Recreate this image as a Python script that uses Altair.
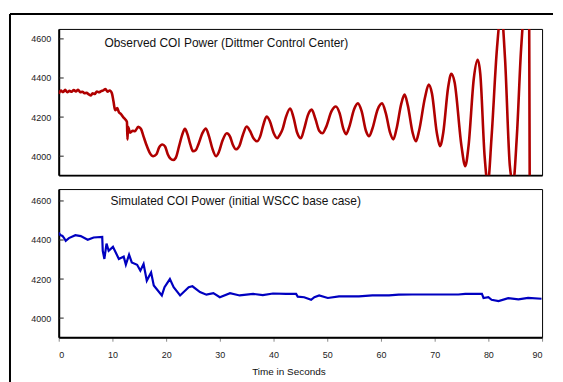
import altair as alt
import pandas as pd

# Observed COI power (red)
red_t = [0, 0.4, 0.8, 1.2, 1.6, 2.0, 2.4, 2.8, 3.2, 3.6, 4.0, 4.4, 4.8, 5.2, 5.6, 6.0, 6.3, 6.7, 7.1, 7.5, 7.9, 8.3, 8.7, 9.1, 9.5,
         9.9, 10.2, 10.5, 10.9, 11.2, 11.6, 12.0, 12.4, 12.7, 12.8, 12.9, 13.3, 13.8, 14.2, 14.8, 15.3, 15.8, 16.3, 16.9,
         17.6, 18.2, 18.7, 19.3, 19.8, 20.3, 20.8, 21.3, 21.8, 22.4, 23.0, 23.5, 24.0, 24.5, 25.0, 25.5, 26.0, 26.8,
         27.4, 28.0, 28.6, 29.3, 29.8, 30.5, 31.3, 31.9, 32.4, 33.0, 33.6, 34.3, 35.0, 35.6, 36.3, 36.9, 37.5, 38.1,
         38.7, 39.3, 40.0, 40.7, 41.2, 41.7, 42.3, 43.1, 43.7, 44.4, 45.1, 45.7, 46.4, 47.1, 47.8, 48.5, 49.1, 49.8,
         50.8, 51.6, 52.3, 53.0, 53.5, 54.1, 55.0, 55.7, 56.4, 57.2, 57.8, 58.4, 59.4, 60.2, 60.9, 61.7, 62.3, 62.9,
         63.8, 64.4, 65.0, 65.9, 66.5, 67.1, 68.2, 68.9, 69.5, 70.4, 71.0, 71.6, 72.5, 73.1, 73.7, 75.0, 75.7, 76.3,
         77.3, 78.0, 78.5, 79.3, 79.9, 80.6, 81.6, 82.4, 83.1, 84.0, 84.6, 85.3, 86.1, 86.8, 87.3, 87.6, 87.7]
red_v = [4320, 4336, 4328, 4339, 4327, 4334, 4330, 4338, 4331, 4340, 4327, 4330, 4322, 4324, 4316, 4311, 4322, 4318, 4331, 4327, 4333, 4337, 4343, 4330, 4336,
         4322, 4280, 4235, 4246, 4225, 4215, 4200, 4188, 4175, 4085, 4150, 4120, 4130, 4128, 4150, 4140, 4100, 4060, 4020,
         4000, 4010, 4045, 4060, 4050, 4010, 3987, 3980, 3992, 4050, 4110, 4140, 4110, 4060, 4025, 4030, 4060, 4120,
         4142, 4100, 4040, 4000, 4020, 4080, 4117, 4100, 4060, 4035, 4050, 4110, 4152, 4130, 4090, 4076, 4100, 4160,
         4203, 4180, 4120, 4092, 4110, 4140, 4200, 4244, 4200, 4120, 4092, 4140, 4210, 4238, 4190, 4130, 4117, 4150,
         4230, 4254, 4220, 4140, 4112, 4150, 4240, 4270, 4230, 4130, 4102, 4140, 4240, 4270, 4220, 4120, 4086, 4140,
         4270, 4315, 4260, 4120, 4076, 4130, 4300, 4366, 4320, 4120, 4051, 4120, 4350, 4422, 4380, 4050, 3949, 4050,
         4400, 4493, 4420, 4000, 3860, 4100, 4550, 4740, 4500, 3950, 3860, 4100, 4550, 4760, 4720, 4700, 3850]

# Simulated COI power (blue)
blue_t = [0, 0.3, 0.7, 1.0, 1.3, 1.9, 3.1, 4.1, 5.4, 6.5, 8.1, 8.2, 8.5, 8.9, 9.3, 10.1, 11.2, 12.1, 12.5, 13.1, 13.6,
          14.6, 15.2, 15.8, 16.4, 17.2, 17.7, 19.2, 19.7, 20.7, 21.4, 22.6, 24.2, 24.9, 26.3, 27.5, 28.8, 30.0, 31.9,
          33.7, 36.2, 38.0, 39.9, 42.3, 44.2, 44.5, 45.7, 47.0, 47.6, 48.5, 50.1, 52.2, 55.9, 58.4, 61.5, 63.3, 65.8,
          68.9, 74.4, 75.7, 78.8, 79.1, 80.0, 80.6, 81.9, 83.7, 85.6, 87.4, 89.9]
blue_v = [4438, 4425, 4421, 4410, 4396, 4410, 4425, 4420, 4401, 4413, 4416, 4345, 4303, 4382, 4345, 4365, 4303, 4315, 4274,
          4325, 4285, 4273, 4243, 4277, 4192, 4234, 4167, 4116, 4158, 4200, 4158, 4116, 4158, 4163, 4133, 4120, 4128,
          4107, 4128, 4116, 4124, 4118, 4126, 4124, 4124, 4110, 4107, 4094, 4107, 4116, 4103, 4111, 4111, 4116, 4116,
          4120, 4121, 4121, 4121, 4124, 4124, 4103, 4107, 4094, 4087, 4102, 4096, 4104, 4099]

y_ticks = [4000, 4200, 4400, 4600]
x_ticks = [0, 10, 20, 30, 40, 50, 60, 70, 80, 90]
titles = ["Observed COI Power (Dittmer Control Center)", "Simulated COI Power (initial WSCC base case)"]
x_title = "Time in Seconds"

red_df = pd.DataFrame({"t": red_t, "v": red_v})
blue_df = pd.DataFrame({"t": blue_t, "v": blue_v})
tick_df = pd.DataFrame({"v": y_ticks})

W = 486
FONT = "Liberation Sans"
PAD = {"top": 3, "left": 0, "right": 0, "bottom": 0}

xs = alt.Scale(domain=[0, 90], nice=False)
ys_top = alt.Scale(domain=[3903, 4651], nice=False)
ys_bot = alt.Scale(domain=[3902, 4661], nice=False)

y_axis = alt.Axis(values=y_ticks, format="d", ticks=False, labelPadding=8, labelFontSize=9, labelColor="#222",
                  grid=False, domainColor="#000", domainWidth=2, title=None, labelFont=FONT)

# ---------- top panel ----------
top_x_axis = alt.Axis(labels=False, ticks=False, grid=False, domainColor="#000", domainWidth=2, title=None)
top_line = alt.Chart(red_df).mark_line(color="#b00000", strokeWidth=2.6, clip=True, interpolate="monotone").encode(
    x=alt.X("t:Q", scale=xs, axis=top_x_axis),
    y=alt.Y("v:Q", scale=ys_top, axis=y_axis),
)
top_ticks = alt.Chart(tick_df).mark_rule(color="#222", strokeWidth=1).encode(
    x=alt.value(0), x2=alt.value(5), y=alt.Y("v:Q", scale=ys_top)
)
top_text = alt.Chart(pd.DataFrame({"s": [titles[0]]})).mark_text(
    align="left", baseline="middle", fontSize=12, font=FONT, color="#111"
).encode(x=alt.value(46), y=alt.value(14), text="s:N")
frame_top = alt.Chart(pd.DataFrame({"a": [0]})).mark_rule(color="#000", strokeWidth=2, clip=False).encode(
    x=alt.value(-49), x2=alt.value(497), y=alt.value(-15)
)
frame_left = alt.Chart(pd.DataFrame({"a": [0]})).mark_rule(color="#000", strokeWidth=2, clip=False).encode(
    x=alt.value(-49), y=alt.value(-15), y2=alt.value(360)
)
top = alt.layer(top_line, top_ticks, top_text, frame_top, frame_left).properties(width=W, height=147)

# ---------- bottom panel ----------
bot_x_axis = alt.Axis(values=x_ticks, ticks=True, tickSize=4, tickColor="#888", labelPadding=9,
                      labelFontSize=9, labelColor="#222", labelFont=FONT, grid=False,
                      domainColor="#000", domainWidth=2, title=x_title, titleFontSize=10,
                      titleFontWeight="normal", titleFont=FONT, titleColor="#111", titlePadding=7,
                      titleX=231, titleAnchor="start", titleAlign="center")
bot_line = alt.Chart(blue_df).mark_line(color="#0000c0", strokeWidth=2.2, clip=True).encode(
    x=alt.X("t:Q", scale=xs, axis=bot_x_axis),
    y=alt.Y("v:Q", scale=ys_bot, axis=y_axis),
)
bot_ticks = alt.Chart(tick_df).mark_rule(color="#222", strokeWidth=1).encode(
    x=alt.value(0), x2=alt.value(5), y=alt.Y("v:Q", scale=ys_bot)
)
bot_text = alt.Chart(pd.DataFrame({"s": [titles[1]]})).mark_text(
    align="left", baseline="middle", fontSize=12, font=FONT, color="#111"
).encode(x=alt.value(52), y=alt.value(12), text="s:N")
bottom = alt.layer(bot_line, bot_ticks, bot_text).properties(width=W, height=149)

chart = alt.vconcat(top, bottom, spacing=14, bounds="flush", padding=PAD, background="white")
chart = chart.configure(padding=PAD).configure_view(stroke="#000", strokeWidth=1)

chart.save("out.html", embed_options={"renderer": "svg", "actions": False})
